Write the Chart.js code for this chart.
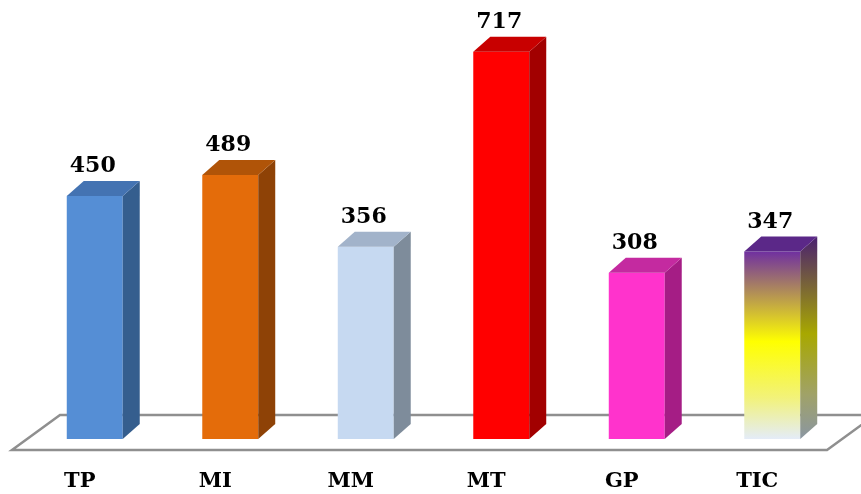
<!DOCTYPE html>
<html>
<head>
<meta charset="utf-8">
<script src="https://cdn.jsdelivr.net/npm/chart.js@4.4.1/dist/chart.umd.min.js"></script>
<style>
  html, body { margin: 0; padding: 0; background: #fff; }
</style>
</head>
<body>
<canvas id="chart" width="861" height="494"></canvas>
<script>
// data
const categories = ['TP', 'MI', 'MM', 'MT', 'GP', 'TIC'];
const values = [450, 489, 356, 717, 308, 347];
const yMin = 0;
const yMax = 800;

// colours per bar (front / top / side), TIC uses a gradient
const frontColors = ['#558ED5', '#E46C0A', '#C6D9F1', '#FF0000', '#FF33CC', null];
const topColors = ['#4473B2', '#B05408', '#A2B3CA', '#C80000', '#C42AA0', '#5B2888'];
const sideColors = ['#355E8E', '#8E4206', '#7E8C9B', '#A20000', '#A51D85', null];

const DX = 17, DY = 15;
const labelFont = 'bold 22px "DejaVu Serif"';

function ticGradient(ctx, yTop, yBot, side) {
    const g = ctx.createLinearGradient(0, yTop, 0, yBot);
    if (side) {
        g.addColorStop(0, '#4A2070');
        g.addColorStop(0.48, '#A8A800');
        g.addColorStop(0.78, '#A0A268');
        g.addColorStop(1, '#8A96A2');
    } else {
        g.addColorStop(0, '#7030A0');
        g.addColorStop(0.48, '#FFFF00');
        g.addColorStop(0.78, '#F2F27A');
        g.addColorStop(1, '#E4ECF8');
    }
    return g;
}

const bar3d = {
    id: 'bar3d',
    beforeDatasetsDraw(chart) {
        // floor
        const ctx = chart.ctx;
        const base = chart.scales.y.getPixelForValue(0);
        ctx.save();
        ctx.beginPath();
        ctx.moveTo(12, base + 11);
        ctx.lineTo(827, base + 11);
        ctx.lineTo(875, base - 24);
        ctx.lineTo(60, base - 24);
        ctx.closePath();
        ctx.fillStyle = '#ffffff';
        ctx.fill();
        ctx.strokeStyle = '#8f8f8f';
        ctx.lineWidth = 2.5;
        ctx.stroke();
        ctx.restore();
    },
    afterDatasetsDraw(chart) {
        const ctx = chart.ctx;
        const meta = chart.getDatasetMeta(0);
        ctx.save();
        meta.data.forEach((bar, i) => {
            const x0 = bar.x - bar.width / 2;
            const x1 = bar.x + bar.width / 2;
            const yt = bar.y, yb = bar.base;

            // side face
            ctx.beginPath();
            ctx.moveTo(x1, yt);
            ctx.lineTo(x1 + DX, yt - DY);
            ctx.lineTo(x1 + DX, yb - DY);
            ctx.lineTo(x1, yb);
            ctx.closePath();
            ctx.fillStyle = sideColors[i] || ticGradient(ctx, yt - DY, yb, true);
            ctx.fill();

            // top face
            ctx.beginPath();
            ctx.moveTo(x0, yt);
            ctx.lineTo(x1, yt);
            ctx.lineTo(x1 + DX, yt - DY);
            ctx.lineTo(x0 + DX, yt - DY);
            ctx.closePath();
            ctx.fillStyle = topColors[i];
            ctx.fill();

            // value label
            ctx.fillStyle = '#000';
            ctx.font = labelFont;
            ctx.textAlign = 'center';
            ctx.textBaseline = 'alphabetic';
            ctx.fillText(String(values[i]), bar.x - 2, yt - DY - 9);
        });
        ctx.restore();
    }
};

new Chart(document.getElementById('chart'), {
    type: 'bar',
    data: {
        labels: categories,
        datasets: [{
            data: values,
            backgroundColor: (c) => {
                const i = c.dataIndex;
                if (frontColors[i]) return frontColors[i];
                const y = c.chart.scales.y;
                if (!y) return '#FFFF00';
                return ticGradient(c.chart.ctx, y.getPixelForValue(values[i]), y.getPixelForValue(0), false);
            },
            borderWidth: 0,
            barPercentage: 0.413,
            categoryPercentage: 1
        }]
    },
    options: {
        responsive: false,
        animation: false,
        devicePixelRatio: 1,
        layout: { padding: { top: 7, left: 27, right: 21, bottom: 0 } },
        plugins: { legend: { display: false }, tooltip: { enabled: false } },
        scales: {
            x: {
                grid: { display: false, drawTicks: false },
                border: { display: false },
                ticks: {
                    color: '#000',
                    font: { family: 'DejaVu Serif', size: 21, weight: 'bold' },
                    padding: 30,
                    labelOffset: -15
                },
                afterFit: (s) => { s.height = 55; }
            },
            y: {
                display: false,
                min: yMin,
                max: yMax
            }
        }
    },
    plugins: [bar3d]
});
</script>
</body>
</html>
